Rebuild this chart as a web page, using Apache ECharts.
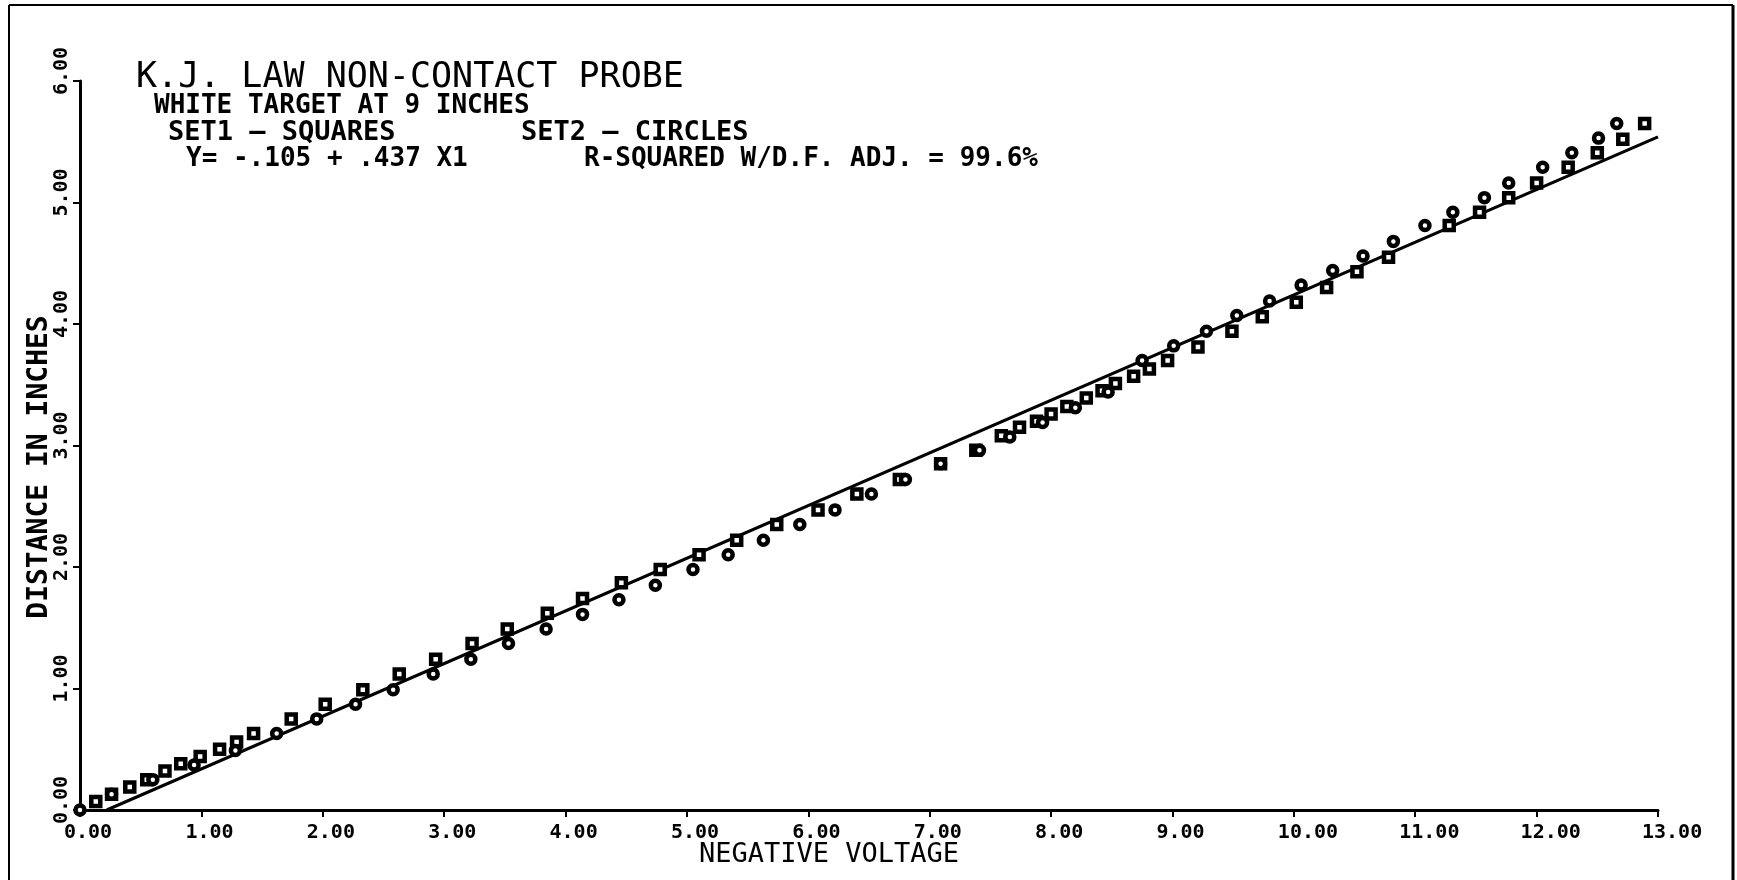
<!DOCTYPE html>
<html>
<head>
<meta charset="utf-8">
<script src="https://cdn.jsdelivr.net/npm/echarts@6/dist/echarts.min.js"></script>
<style>
html,body{margin:0;padding:0;background:#ffffff;}
#chart{width:1737px;height:880px;}
</style>
</head>
<body>
<div id="chart"></div>
<script>
// ---- data ----
const set1X = [0.13,0.26,0.41,0.55,0.70,0.83,0.99,1.15,1.29,1.43,1.74,2.02,2.33,2.63,2.93,3.23,3.52,3.85,4.14,4.46,4.78,5.10,5.41,5.74,6.08,6.40,6.75,7.09,7.38,7.59,7.74,7.88,8.00,8.13,8.29,8.42,8.53,8.68,8.81,8.96,9.21,9.49,9.74,10.02,10.27,10.52,10.78,11.28,11.53,11.77,12.00,12.26,12.50,12.71,12.89];
const set1Y = [0.07,0.13,0.19,0.25,0.32,0.38,0.44,0.50,0.56,0.63,0.75,0.87,0.99,1.12,1.24,1.37,1.49,1.62,1.74,1.87,1.98,2.10,2.22,2.35,2.47,2.60,2.72,2.85,2.96,3.08,3.15,3.20,3.26,3.32,3.39,3.45,3.51,3.57,3.63,3.70,3.81,3.94,4.06,4.18,4.30,4.43,4.55,4.81,4.92,5.04,5.16,5.29,5.41,5.52,5.65];
const set2X = [0,0.26,0.60,0.94,1.28,1.62,1.95,2.27,2.58,2.91,3.22,3.53,3.84,4.14,4.44,4.74,5.05,5.34,5.63,5.93,6.22,6.52,6.80,7.09,7.41,7.66,7.93,8.20,8.47,8.75,9.01,9.28,9.53,9.80,10.06,10.32,10.57,10.82,11.08,11.31,11.57,11.77,12.05,12.29,12.51,12.66];
const set2Y = [0,0.13,0.25,0.37,0.49,0.63,0.75,0.87,0.99,1.12,1.24,1.37,1.49,1.61,1.73,1.85,1.98,2.10,2.22,2.35,2.47,2.60,2.72,2.85,2.96,3.07,3.19,3.31,3.44,3.70,3.82,3.94,4.07,4.19,4.32,4.44,4.56,4.68,4.81,4.92,5.04,5.16,5.29,5.41,5.53,5.65];
const fitX = [0.22, 13.0];
const fitY = [0, 5.54];
const xTickMin = 0, xTickMax = 13, xTickStep = 1;
const yTickMin = 0, yTickMax = 6, yTickStep = 1;
const titleText = 'K.J. LAW NON-CONTACT PROBE';
const subText = 'WHITE TARGET AT 9 INCHES';
const set1Label = 'SET1 — SQUARES';
const set2Label = 'SET2 — CIRCLES';
const eqText = 'Y= -.105 + .437 X1';
const rsqText = 'R-SQUARED W/D.F. ADJ. = 99.6%';
const xName = 'NEGATIVE VOLTAGE';
const yName = 'DISTANCE IN INCHES';

const MONO = "'DejaVu Sans Mono', monospace";
const zip = (a, b) => a.map((v, i) => [v, b[i]]);

const chart = echarts.init(document.getElementById('chart'), null, {renderer: 'canvas'});

function txt(text, x, y, size, weight, align, rotation) {
  const el = {
    type: 'text', x: x, y: y, silent: true,
    style: {text: text, fill: '#000', font: weight + ' ' + size + 'px ' + MONO,
            align: align || 'left', verticalAlign: 'middle'}
  };
  if (rotation) el.rotation = rotation;
  return el;
}

chart.setOption({
  backgroundColor: '#ffffff',
  animation: false,
  grid: {left: 80, right: 79, top: 81, bottom: 70, containLabel: false},
  xAxis: {
    type: 'value', min: xTickMin, max: xTickMax, interval: xTickStep,
    axisLine: {show: true, onZero: false, lineStyle: {color: '#000', width: 3}},
    axisTick: {show: true, inside: false, length: 7, lineStyle: {color: '#000', width: 2}},
    splitLine: {show: false},
    axisLabel: {
      color: '#000', fontFamily: MONO, fontWeight: 'bold', fontSize: 20, margin: 13,
      align: 'left', padding: [0, 0, 0, -16],
      formatter: v => v.toFixed(2)
    }
  },
  yAxis: {
    type: 'value', min: yTickMin, max: yTickMax, interval: yTickStep,
    axisLine: {show: true, onZero: false, lineStyle: {color: '#000', width: 3}},
    axisTick: {show: true, inside: false, length: 7, lineStyle: {color: '#000', width: 2}},
    splitLine: {show: false},
    axisLabel: {
      color: '#000', fontFamily: MONO, fontWeight: 'bold', fontSize: 20, margin: 8,
      rotate: 90, padding: [0, 0, 0, 20],
      formatter: v => v.toFixed(2)
    }
  },
  series: [
    {
      name: 'fit', type: 'line', data: zip(fitX, fitY), showSymbol: false, symbol: 'none',
      lineStyle: {color: '#000', width: 3}, z: 2, silent: true
    },
    {
      name: 'SET1', type: 'scatter', data: zip(set1X, set1Y), symbol: 'rect', symbolSize: 9,
      itemStyle: {color: '#fff', borderColor: '#000', borderWidth: 4.5, opacity: 1}, z: 3
    },
    {
      name: 'SET2', type: 'scatter', data: zip(set2X, set2Y), symbol: 'circle', symbolSize: 9,
      itemStyle: {color: '#fff', borderColor: '#000', borderWidth: 4.5, opacity: 1}, z: 4
    }
  ],
  graphic: [
    {type: 'line', silent: true, shape: {x1: 9, y1: 5, x2: 1733, y2: 5}, style: {stroke: '#000', lineWidth: 2}},
    {type: 'line', silent: true, shape: {x1: 9, y1: 5, x2: 9, y2: 880}, style: {stroke: '#000', lineWidth: 2}},
    {type: 'line', silent: true, shape: {x1: 1733, y1: 5, x2: 1733, y2: 880}, style: {stroke: '#000', lineWidth: 3}},
    txt(titleText, 136, 78, 35, 'normal'),
    txt(subText, 154, 106, 26, 'bold'),
    txt(set1Label, 168, 133, 27, 'bold'),
    txt(set2Label, 521, 133, 27, 'bold'),
    txt(eqText, 186, 159, 26, 'bold'),
    txt(rsqText, 584, 159, 26, 'bold'),
    txt(xName, 829, 855, 27, 'normal', 'center'),
    txt(yName, 40, 467, 28, 'bold', 'center', Math.PI / 2)
  ]
});
</script>
</body>
</html>
